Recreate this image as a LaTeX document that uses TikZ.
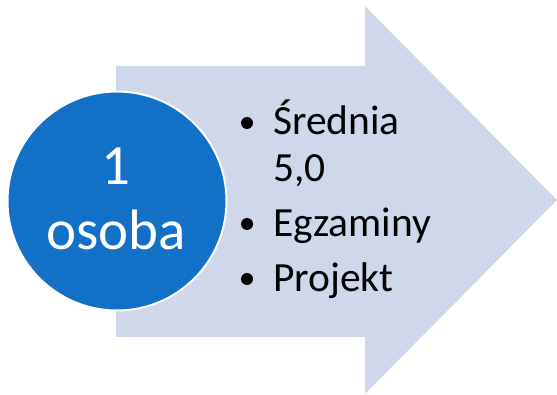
\documentclass[tikz,border=0pt]{standalone}
\usepackage{fontspec}
\setmainfont{Carlito}
\definecolor{arrowfill}{HTML}{CFD8EB}
\definecolor{circfill}{HTML}{1270C6}
\tikzset{
  bigtxt/.style={text=white, font=\fontsize{57}{68}\selectfont, inner sep=0pt, anchor=base},
  listtxt/.style={text=black, font=\fontsize{41.5}{50}\selectfont, inner sep=0pt, anchor=base west},
  bul/.style={circle, fill=black, inner sep=0pt, minimum size=12pt}
}
\begin{document}
\begin{tikzpicture}[x=1pt,y=-1pt]
\useasboundingbox (0,0) rectangle (557,395);
\fill[arrowfill] (116,66) -- (365,66) -- (365,6) -- (557,200) -- (365,394) -- (365,337) -- (116,337) -- cycle;
\node[circle, fill=circfill, draw=white, line width=2pt, minimum size=219pt, inner sep=0pt] (c) at (117,201) {};
\node[bigtxt] (one) at (116,185) {1};
\node[bigtxt] (osoba) at (116,250) {osoba};
\node[bul] (b1) at (247,123) {};
\node[listtxt] (t1) at (273,135) {Średnia};
\node[listtxt] (t1b) at (273,182) {5,0};
\node[bul] (b2) at (247,224) {};
\node[listtxt] (t2) at (273,237) {Egzaminy};
\node[bul] (b3) at (247,279) {};
\node[listtxt] (t3) at (273,292) {Projekt};
\end{tikzpicture}
\end{document}
